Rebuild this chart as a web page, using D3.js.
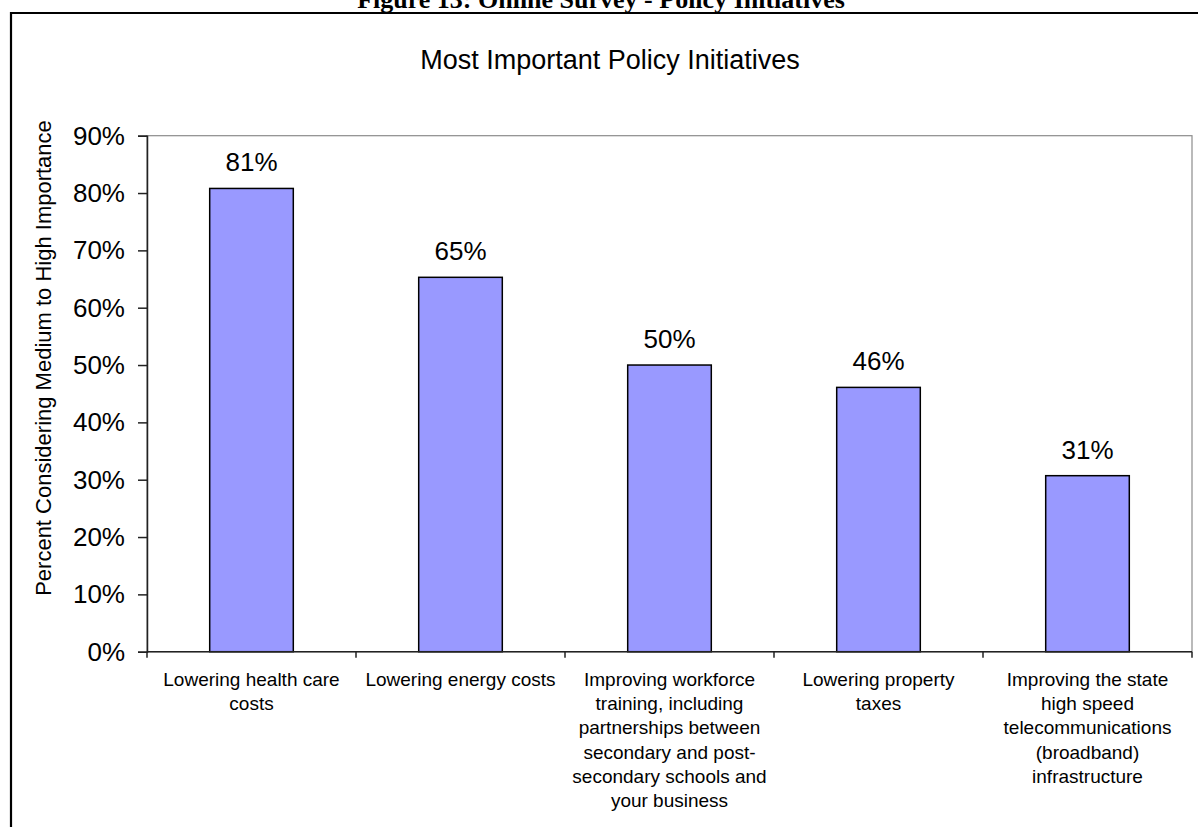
<!DOCTYPE html>
<html>
<head>
<meta charset="utf-8">
<script src="https://cdn.jsdelivr.net/npm/d3@7"></script>
<style>
  html, body { margin: 0; padding: 0; background: #fff; }
  svg { display: block; }
</style>
</head>
<body>
<svg id="chart" width="1198" height="827"></svg>
<script>
// ---- data ----
const categories = [
  "Lowering health care costs",
  "Lowering energy costs",
  "Improving workforce training, including partnerships between secondary and post-secondary schools and your business",
  "Lowering property taxes",
  "Improving the state high speed telecommunications (broadband) infrastructure"
];
const categoryLines = [
  ["Lowering health care", "costs"],
  ["Lowering energy costs"],
  ["Improving workforce", "training, including", "partnerships between", "secondary and post-", "secondary schools and", "your business"],
  ["Lowering property", "taxes"],
  ["Improving the state", "high speed", "telecommunications", "(broadband)", "infrastructure"]
];
const values = [0.808, 0.653, 0.500, 0.461, 0.307];
const yTicks = [0, 0.1, 0.2, 0.3, 0.4, 0.5, 0.6, 0.7, 0.8, 0.9];
const figureCaption = "Figure 13: Online Survey - Policy Initiatives";
const chartTitle = "Most Important Policy Initiatives";
const yAxisTitle = "Percent Considering Medium to High Importance";

// ---- layout ----
const svg = d3.select("#chart");
const plot = { left: 147, right: 1192, top: 135.7, bottom: 651.7 };

const x = d3.scaleBand()
  .domain(categories)
  .range([plot.left, plot.right])
  .paddingInner(0.6)
  .paddingOuter(0.3);

const y = d3.scaleLinear()
  .domain([0, 0.9])
  .range([plot.bottom, plot.top]);

const fmt = d3.format(".0%");

// figure caption (cut off at the top, as in the source page)
svg.append("text")
  .attr("x", 601).attr("y", 8)
  .attr("text-anchor", "middle")
  .attr("font-family", "'Liberation Serif', 'Times New Roman', serif")
  .attr("font-weight", "bold")
  .attr("font-size", 26)
  .text(figureCaption);

// outer frame
svg.append("path")
  .attr("d", "M11,830 L11,13 L1202,13")
  .attr("fill", "none")
  .attr("stroke", "#000")
  .attr("stroke-width", 2.2);

// title
svg.append("text")
  .attr("x", 610).attr("y", 69)
  .attr("text-anchor", "middle")
  .attr("font-family", "Arial, 'Liberation Sans', sans-serif")
  .attr("font-size", 27)
  .attr("fill", "#000")
  .text(chartTitle);

// plot area border (grey)
svg.append("rect")
  .attr("x", plot.left).attr("y", plot.top)
  .attr("width", plot.right - plot.left)
  .attr("height", plot.bottom - plot.top)
  .attr("fill", "none")
  .attr("stroke", "#8c8c8c")
  .attr("stroke-width", 1.2);

// bars
svg.append("g").selectAll("rect")
  .data(categories)
  .join("rect")
  .attr("x", d => x(d))
  .attr("y", (d, i) => y(values[i]))
  .attr("width", x.bandwidth())
  .attr("height", (d, i) => y(0) - y(values[i]))
  .attr("fill", "#9999FF")
  .attr("stroke", "#000")
  .attr("stroke-width", 1.5);

// data labels
svg.append("g").selectAll("text")
  .data(categories)
  .join("text")
  .attr("x", d => x(d) + x.bandwidth() / 2)
  .attr("y", (d, i) => y(values[i]) - 17)
  .attr("text-anchor", "middle")
  .attr("font-family", "Arial, 'Liberation Sans', sans-serif")
  .attr("font-size", 26)
  .attr("fill", "#000")
  .text((d, i) => fmt(values[i]));

// y axis
const yAxis = d3.axisLeft(y)
  .tickValues(yTicks)
  .tickFormat(fmt)
  .tickSize(9)
  .tickPadding(13);
const gy = svg.append("g")
  .attr("transform", `translate(${plot.left},0)`)
  .call(yAxis);
gy.select(".domain").attr("stroke", "#222").attr("stroke-width", 1.5);
gy.selectAll(".tick line").attr("stroke", "#222").attr("stroke-width", 1.5);
gy.selectAll(".tick text")
  .attr("font-family", "Arial, 'Liberation Sans', sans-serif")
  .attr("font-size", 26)
  .attr("fill", "#000");

// x axis: line plus ticks at category boundaries
const edges = [plot.left].concat(categories.map((c, i) => plot.left + x.step() * (i + 1)));
const gx = svg.append("g");
gx.append("line")
  .attr("x1", plot.left).attr("x2", plot.right)
  .attr("y1", y(0)).attr("y2", y(0))
  .attr("stroke", "#222").attr("stroke-width", 1.5);
gx.selectAll("line.tick")
  .data(edges)
  .join("line")
  .attr("class", "tick")
  .attr("x1", d => d).attr("x2", d => d)
  .attr("y1", y(0)).attr("y2", y(0) + 6)
  .attr("stroke", "#222").attr("stroke-width", 1.5);

// category labels
const catG = svg.append("g");
categories.forEach((c, i) => {
  const t = catG.append("text")
    .attr("x", x(c) + x.bandwidth() / 2)
    .attr("y", 686)
    .attr("text-anchor", "middle")
    .attr("font-family", "Arial, 'Liberation Sans', sans-serif")
    .attr("font-size", 19)
    .attr("fill", "#000");
  categoryLines[i].forEach((line, j) => {
    t.append("tspan")
      .attr("x", x(c) + x.bandwidth() / 2)
      .attr("dy", j === 0 ? 0 : 24.2)
      .text(line);
  });
});

// y axis title
svg.append("text")
  .attr("transform", `translate(51,358) rotate(-90)`)
  .attr("text-anchor", "middle")
  .attr("font-family", "Arial, 'Liberation Sans', sans-serif")
  .attr("font-size", 22)
  .attr("fill", "#000")
  .text(yAxisTitle);
</script>
</body>
</html>
